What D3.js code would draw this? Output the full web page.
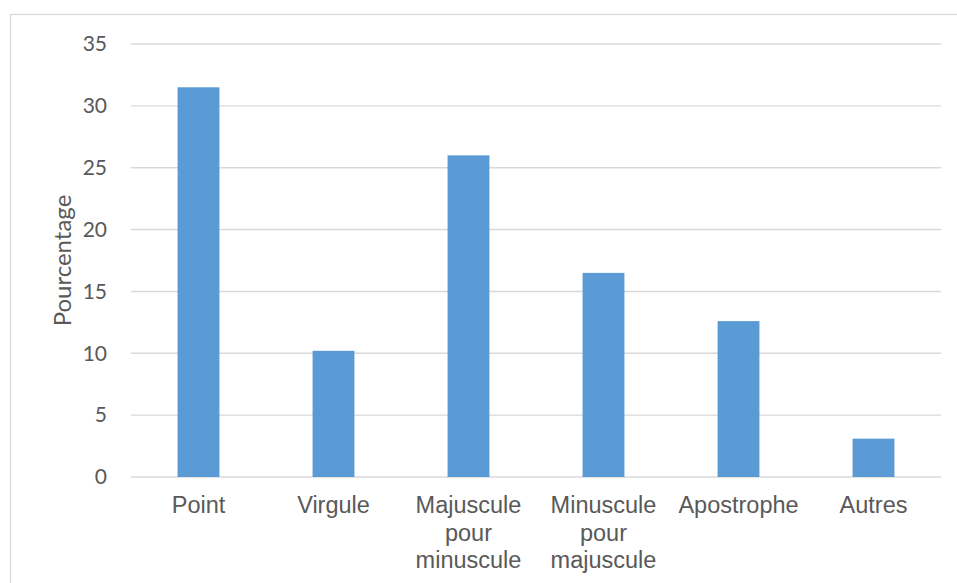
<!DOCTYPE html>
<html><head><meta charset="utf-8">
<script src="https://cdn.jsdelivr.net/npm/d3@7"></script>
<style>html,body{margin:0;padding:0;background:#fff;overflow:hidden}</style>
</head><body>
<svg id="c" width="957" height="583"></svg>
<script>
const categories = ["Point", "Virgule", "Majuscule\npour\nminuscule", "Minuscule\npour\nmajuscule", "Apostrophe", "Autres"];
const values = [31.5, 10.2, 26.0, 16.5, 12.6, 3.1];
const yTicks = [0, 5, 10, 15, 20, 25, 30, 35];
const yTitle = "Pourcentage";

const svg = d3.select("#c");
const plot = {left: 131, right: 941, top: 44, bottom: 477};

svg.append("rect").attr("x", 10.5).attr("y", 14.5).attr("width", 1000).attr("height", 700)
  .attr("fill", "#fff").attr("stroke", "#d9d9d9").attr("stroke-width", 1.3);

const x = d3.scaleBand().domain(categories).range([plot.left, plot.right])
  .paddingInner(0.69).paddingOuter(0.345);
const y = d3.scaleLinear().domain([0, 35]).range([plot.bottom, plot.top]);

// gridlines
svg.append("g").selectAll("line").data(yTicks).join("line")
  .attr("x1", plot.left).attr("x2", plot.right)
  .attr("y1", d => y(d)).attr("y2", d => y(d))
  .attr("stroke", "#d9d9d9").attr("stroke-width", 1.4);

// y axis labels
const yAxis = d3.axisLeft(y).tickValues(yTicks).tickSize(0).tickPadding(24);
const ya = svg.append("g").attr("transform", `translate(${plot.left},0)`).call(yAxis);
ya.select(".domain").remove();
ya.selectAll("text").attr("fill", "#595959").style("font-family", "Lato, 'Open Sans', sans-serif").style("font-size", "21px");

// bars
svg.append("g").selectAll("rect").data(values).join("rect")
  .attr("x", (d, i) => x(categories[i]))
  .attr("width", x.bandwidth())
  .attr("y", d => y(d))
  .attr("height", d => y(0) - y(d))
  .attr("fill", "#5b9bd5");

// x labels
const xAxis = d3.axisBottom(x).tickSize(0).tickFormat("");
const xa = svg.append("g").attr("transform", `translate(0,${plot.bottom})`).call(xAxis);
xa.select(".domain").remove();
xa.selectAll(".tick").each(function(d) {
  const t = d3.select(this).append("text")
    .attr("text-anchor", "middle").attr("fill", "#595959")
    .style("font-family", "'Liberation Sans', Arial, sans-serif").style("font-size", "23.5px");
  d.split("\n").forEach((line, k) => {
    t.append("tspan").attr("x", 0).attr("y", 36 + k * 27.5).text(line);
  });
});

// y title
svg.append("text")
  .attr("transform", `translate(71,${(plot.top + plot.bottom) / 2}) rotate(-90)`)
  .attr("text-anchor", "middle").attr("fill", "#595959")
  .style("font-family", "Lato, 'Open Sans', sans-serif").style("font-size", "24px")
  .text(yTitle);
</script>
</body></html>
